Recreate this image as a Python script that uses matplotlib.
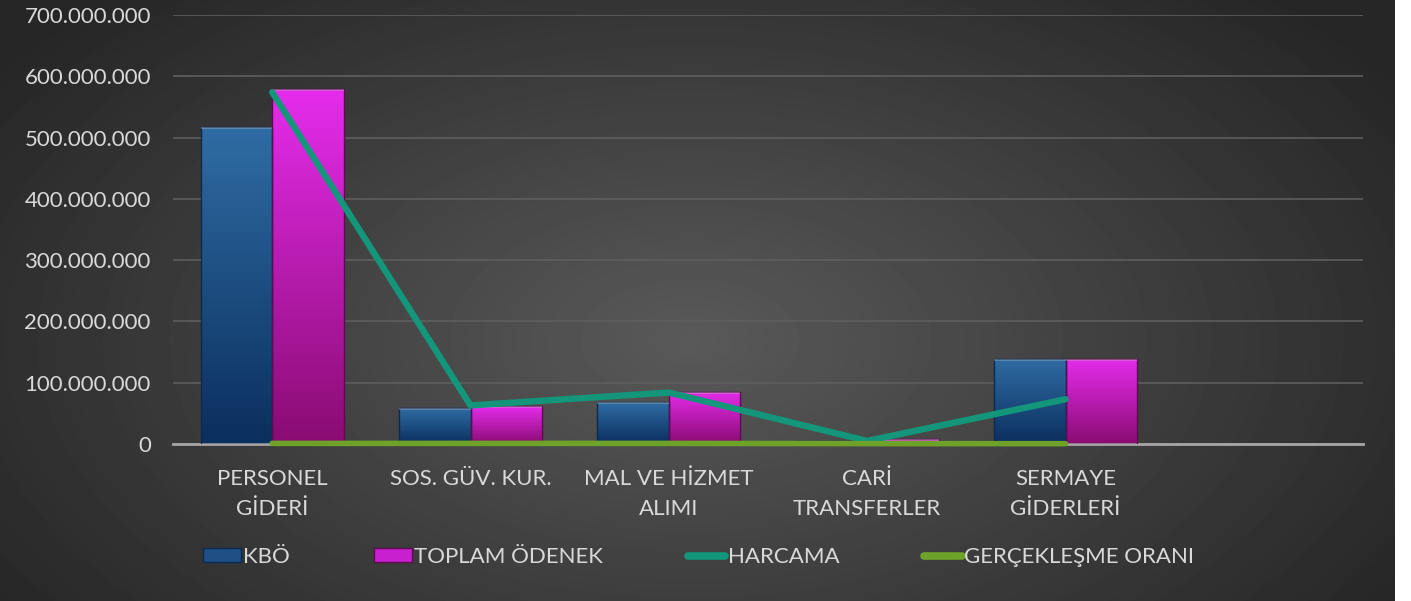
import numpy as np
import matplotlib
matplotlib.use("Agg")
import matplotlib.pyplot as plt
import matplotlib.ticker as ticker
from matplotlib.patches import Rectangle
from matplotlib.lines import Line2D
from matplotlib.colors import LinearSegmentedColormap

categories = ["PERSONEL\nGİDERİ", "SOS. GÜV. KUR.", "MAL VE HİZMET\nALIMI",
              "CARİ\nTRANSFERLER", "SERMAYE\nGİDERLERİ", ""]
kbo = [517e6, 58e6, 68e6, 5e6, 139e6]
toplam_odenek = [579e6, 62e6, 85e6, 8e6, 139e6]
harcama = [574e6, 63e6, 84e6, 5e6, 73e6]
gerceklesme = [0.99, 1.0, 0.99, 0.6, 0.53]

plt.rcParams['font.family'] = ['Lato', 'DejaVu Sans']
txt = '#d9d9d9'

fig = plt.figure(figsize=(14.11, 6.01), dpi=100, facecolor='white')

# radial dark background, white strip on the right like the reference
bg = fig.add_axes([0, 0, 1395 / 1411, 1])
yy, xx = np.mgrid[0:601, 0:1395]
r = np.sqrt(((xx - 690) / 760.0) ** 2 + ((yy - 340) / 430.0) ** 2)
shade = np.clip(0.35 - 0.18 * r, 0.15, 0.35)
bg.imshow(shade, cmap='gray', vmin=0, vmax=1, aspect='auto', interpolation='bilinear')
bg.axis('off')

ax = fig.add_axes([173 / 1411, 1 - 444 / 601, 1190 / 1411, 429 / 601])
ax.patch.set_alpha(0)

x = np.arange(len(kbo))
w = 0.36
blue_cm = LinearSegmentedColormap.from_list('b', ['#0b2f5e', '#2f6ca3'])
pink_cm = LinearSegmentedColormap.from_list('p', ['#8a0c72', '#e52cec'])

def gradient_bars(bars, cmap, edge):
    grad = np.linspace(0, 1, 100).reshape(-1, 1)
    for b in bars:
        x0, w0, h0 = b.get_x(), b.get_width(), b.get_height()
        im = ax.imshow(grad, cmap=cmap, origin='lower', aspect='auto',
                       extent=(x0, x0 + w0, 0, h0), zorder=2)
        im.set_clip_path(b)
        b.set_facecolor('none')
        b.set_edgecolor(edge)
        b.set_linewidth(1.0)
        ax.add_patch(Rectangle((x0, h0 - 3e6), w0, 3e6, color='white', alpha=0.25,
                               lw=0, zorder=3))

b1 = ax.bar(x - w / 2, kbo, w, zorder=3)
b2 = ax.bar(x + w / 2, toplam_odenek, w, zorder=3)
gradient_bars(b1, blue_cm, '#0a2a52')
gradient_bars(b2, pink_cm, '#5e0a55')

ax.plot(x, harcama, color='#13967a', lw=4.6, solid_capstyle='round', zorder=5)
ax2 = ax.twinx()
ax2.plot(x, gerceklesme, color='#6fa229', lw=4.0, solid_capstyle='round', zorder=5,
         clip_on=False)
ax2.set_ylim(0, 700)
ax2.axis('off')

ax.set_xlim(-0.5, 5.5)
ax.set_ylim(0, 700e6)
ax.set_yticks(np.arange(0, 700e6 + 1, 100e6))
ax.yaxis.set_major_formatter(ticker.FuncFormatter(lambda v, _: f'{int(v):,}'.replace(',', '.')))
ax.set_xticks(np.arange(len(categories)))
ax.set_xticklabels(categories, linespacing=1.65)
ax.tick_params(axis='both', length=0, colors=txt, labelsize=16)
ax.tick_params(axis='x', pad=18)
ax.tick_params(axis='y', pad=16)
ax.grid(axis='y', color='#5e5e5e', lw=1.2, zorder=0)
ax.set_axisbelow(True)
for s in ['top', 'right', 'left']:
    ax.spines[s].set_visible(False)
ax.spines['bottom'].set_color('#a6a6a6')
ax.spines['bottom'].set_linewidth(2)

handles = [Rectangle((0, 0), 1, 1, facecolor='#1f4f85', edgecolor='#0a2a52'),
           Rectangle((0, 0), 1, 1, facecolor='#c820cf', edgecolor='#5e0a55'),
           Line2D([], [], color='#13967a', lw=5.5, solid_capstyle='round'),
           Line2D([], [], color='#6fa229', lw=5.5, solid_capstyle='round')]
labels = ["KBÖ", "TOPLAM ÖDENEK", "HARCAMA", "GERÇEKLEŞME ORANI"]
leg = fig.legend(handles, labels, loc='center', bbox_to_anchor=(0.495, 1 - 557 / 601),
                 ncol=4, frameon=False, fontsize=16, handlelength=1.7, handleheight=0.6,
                 handletextpad=0.1, columnspacing=3.8, labelcolor=txt)

fig.savefig('out.png', dpi=100, facecolor=fig.get_facecolor())
